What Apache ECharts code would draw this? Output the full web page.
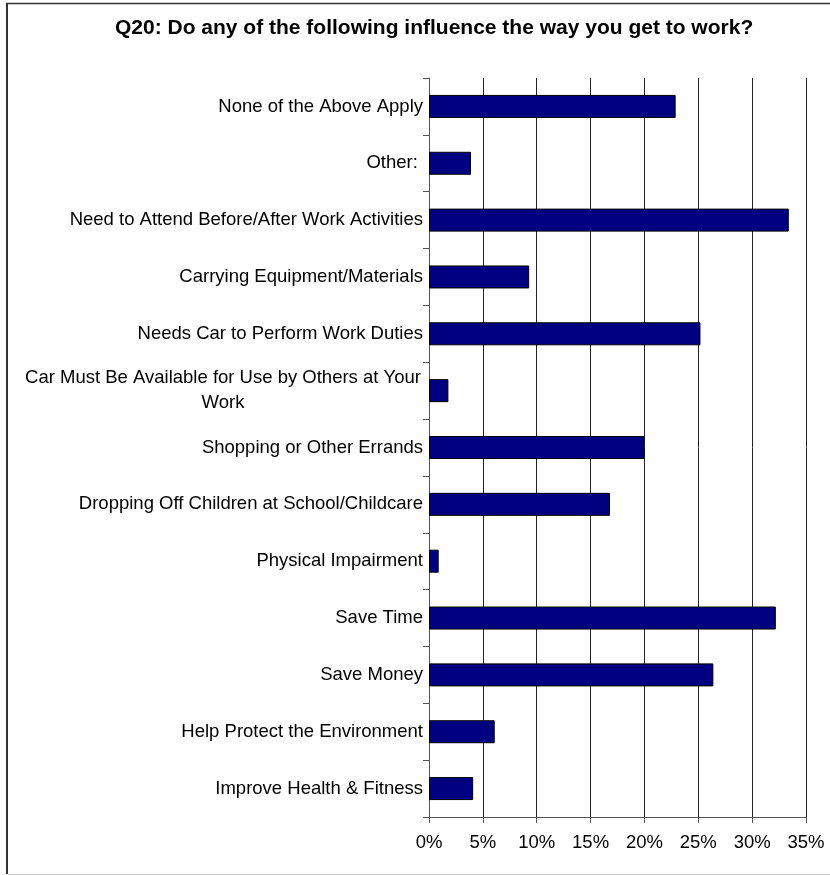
<!DOCTYPE html>
<html>
<head>
<meta charset="utf-8">
<script src="https://cdn.jsdelivr.net/npm/echarts@6/dist/echarts.min.js"></script>
<style>
html,body{margin:0;padding:0;background:#fff;}
#chart{width:830px;height:875px;}
</style>
</head>
<body>
<div id="chart"></div>
<script>
const titleText = 'Q20: Do any of the following influence the way you get to work?';
const categories = [
  'None of the Above Apply',
  'Other: ',
  'Need to Attend Before/After Work Activities',
  'Carrying Equipment/Materials',
  'Needs Car to Perform Work Duties',
  'Car Must Be Available for Use by Others at Your\nWork',
  'Shopping or Other Errands',
  'Dropping Off Children at School/Childcare',
  'Physical Impairment',
  'Save Time',
  'Save Money',
  'Help Protect the Environment',
  'Improve Health & Fitness'
];
const values = [22.9, 3.9, 33.4, 9.3, 25.2, 1.8, 20.0, 16.8, 0.9, 32.2, 26.4, 6.1, 4.1];
const xTicks = [0, 5, 10, 15, 20, 25, 30, 35];

const FONT = 'Liberation Sans, Arial, sans-serif';
const chart = echarts.init(document.getElementById('chart'));
chart.setOption({
  backgroundColor: '#fff',
  animation: false,
  title: {
    text: titleText,
    left: 115,
    top: 18,
    padding: 0,
    textStyle: { fontFamily: FONT, fontWeight: 'bold', fontSize: 21, color: '#000' }
  },
  graphic: [
    { type: 'line', shape: { x1: 7, y1: 3, x2: 7, y2: 874 }, style: { stroke: '#333', lineWidth: 2 } },
    { type: 'line', shape: { x1: 6, y1: 3.5, x2: 830, y2: 3.5 }, style: { stroke: '#333', lineWidth: 1.5 } },
    { type: 'line', shape: { x1: 8, y1: 874.5, x2: 830, y2: 874.5 }, style: { stroke: '#c8c8c8', lineWidth: 1 } }
  ],
  grid: { left: 429, right: 24, top: 78, bottom: 58, containLabel: false },
  xAxis: {
    type: 'value',
    min: xTicks[0],
    max: xTicks[xTicks.length - 1],
    interval: 5,
    axisLine: { show: true, lineStyle: { color: '#555', width: 1 } },
    axisTick: { show: true, length: 6, lineStyle: { color: '#555' } },
    splitLine: { show: true, lineStyle: { color: '#222', width: 1 } },
    axisLabel: {
      margin: 16,
      formatter: v => v + '%',
      fontFamily: FONT, fontSize: 18.5, color: '#000'
    }
  },
  yAxis: {
    type: 'category',
    data: categories,
    inverse: true,
    axisLine: { show: true, lineStyle: { color: '#555', width: 1 } },
    axisTick: { show: true, length: 6, lineStyle: { color: '#555' } },
    axisLabel: {
      margin: 6,
      fontFamily: FONT, fontSize: 18.5, color: '#000',
      lineHeight: 25,
      formatter: function (v) {
        if (v.indexOf('\n') >= 0) {
          return v.split('\n').map(s => '{c|' + s + '}').join('\n');
        }
        return v;
      },
      rich: {
        c: { width: 400, align: 'center', fontFamily: FONT, fontSize: 18.5, color: '#000', lineHeight: 25 }
      }
    }
  },
  series: [{
    type: 'bar',
    data: values,
    barWidth: 23,
    itemStyle: { color: '#000080', borderColor: '#000', borderWidth: 1 },
    silent: true
  }]
});
</script>
</body>
</html>
